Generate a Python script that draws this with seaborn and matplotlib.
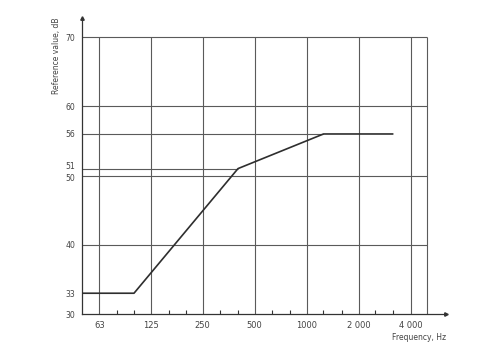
import matplotlib
matplotlib.use("Agg")
import matplotlib.pyplot as plt
import matplotlib.transforms as mtrans
import seaborn as sns
import pandas as pd
import numpy as np

# Data
curve_freq = [50, 100, 400, 1250, 3150]
curve_db = [33, 33, 51, 56, 56]
octave_freqs = [63, 125, 250, 500, 1000, 2000, 4000]
octave_labels = ["63", "125", "250", "500", "1000", "2 000", "4 000"]
third_octave_freqs = [80, 100, 160, 200, 315, 400, 630, 800, 1250, 1600, 2500, 3150]
grid_db = [40, 50, 60, 70]
ytick_values = [30, 33, 40, 50, 51, 56, 60, 70]
ref_lines = [(51, 400), (56, 1250)]

sns.set_theme(style="white")
plt.rcParams['font.family'] = ['DejaVu Sans']

W, H = 493, 344
fig = plt.figure(figsize=(W / 100, H / 100), dpi=100)
ax = fig.add_axes([82 / W, (H - 314) / H, (446 - 82) / W, (314 - 18) / H])

ax.set_xscale("log", base=2)
ax.set_xlim(50, 6400)
ax.set_ylim(30, 72.75)

gc = "#5a5a5a"
ax.vlines(octave_freqs + [5000], 30, 70, color=gc, lw=0.8, zorder=1)
ax.hlines(grid_db, 50, 5000, color=gc, lw=0.8, zorder=1)
for yv, xe in ref_lines:
    ax.hlines(yv, 50, xe, color=gc, lw=0.8, zorder=1)

df = pd.DataFrame({"f": curve_freq, "db": curve_db})
sns.lineplot(data=df, x="f", y="db", ax=ax, color="#2e2e2e", lw=1.2, zorder=3, sort=False)

ax.vlines(third_octave_freqs, 30, 30.6, color="#333333", lw=0.8, zorder=2)

for s in ["top", "right"]:
    ax.spines[s].set_visible(False)
for s in ["left", "bottom"]:
    ax.spines[s].set_color("#333333")
    ax.spines[s].set_linewidth(0.9)

ax.plot(1, 0, ">", transform=ax.transAxes, color="#333333", ms=2.5, clip_on=False)
ax.plot(0, 1, "^", transform=ax.transAxes, color="#333333", ms=2.5, clip_on=False)

ax.set_xticks(octave_freqs)
ax.set_xticklabels(octave_labels)
ax.xaxis.set_minor_locator(matplotlib.ticker.NullLocator())
ax.set_yticks(ytick_values)
ax.set_yticklabels([str(v) for v in ytick_values])
ax.tick_params(axis="both", length=0, labelsize=6, colors="#444444")
ax.tick_params(axis="x", pad=5)
ax.tick_params(axis="y", pad=5)
ax.set_xlabel("")
ax.set_ylabel("")

# separate crowded 50 / 51 labels
for lbl, val in zip(ax.get_yticklabels(), ytick_values):
    if val == 51:
        lbl.set_transform(lbl.get_transform() + mtrans.ScaledTranslation(0, 2.5 / 72, fig.dpi_scale_trans))
    elif val == 50:
        lbl.set_transform(lbl.get_transform() + mtrans.ScaledTranslation(0, -1.5 / 72, fig.dpi_scale_trans))
    lbl.set_fontsize(5.6)

fig.text(57 / W, 1 - 18 / H, "Reference value, dB", rotation=90, va="top", ha="center",
         fontsize=5.5, color="#444444")
fig.text(446 / W, 1 - 338 / H, "Frequency, Hz", ha="right", va="center",
         fontsize=5.5, color="#444444")

fig.savefig("out.png", dpi=100)
